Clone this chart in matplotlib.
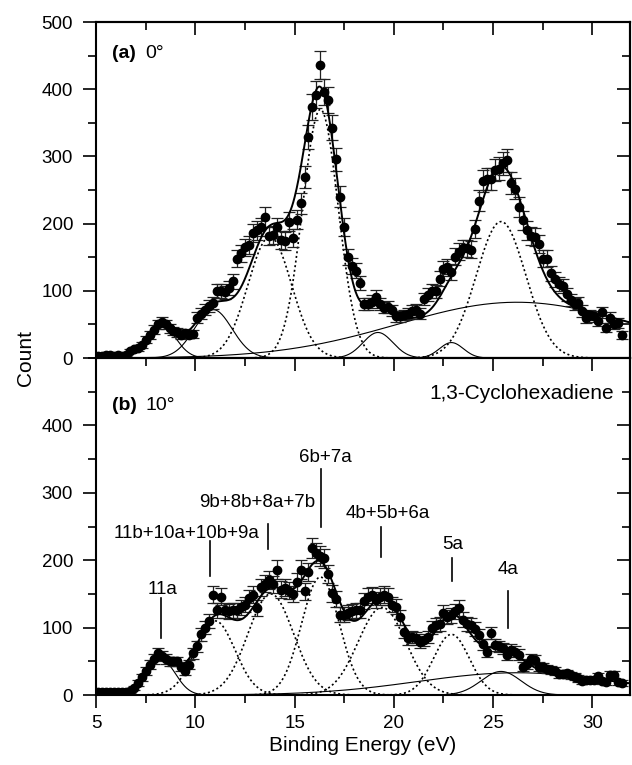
import matplotlib.pyplot as plt
import numpy as np
from matplotlib.ticker import MultipleLocator

plt.rcParams['font.family'] = ['Liberation Sans', 'DejaVu Sans']

# measurement grid (eV)
energy = np.round(np.arange(5.1, 31.6, 0.2), 1)

counts_0deg = [
    3, 3, 4, 4, 3,
    4, 3, 5, 10, 13,
    15, 19, 27, 34, 42,
    50, 54, 50, 44, 40,
    38, 34, 37, 35, 36,
    60, 66, 72, 78, 82,
    100, 100, 98, 104, 114,
    148, 156, 165, 168, 186,
    190, 195, 210, 182, 183,
    195, 176, 174, 203, 178,
    206, 230, 270, 329, 373,
    392, 436, 396, 384, 343,
    296, 240, 195, 150, 137,
    130, 112, 81, 81, 84,
    91, 81, 75, 76, 71,
    62, 62, 64, 66, 70,
    72, 66, 88, 94, 100,
    99, 118, 133, 136, 128,
    151, 158, 163, 163, 161,
    192, 234, 263, 267, 267,
    280, 282, 290, 294, 260,
    252, 225, 205, 190, 182,
    180, 170, 148, 148, 126,
    117, 110, 107, 95, 86,
    80, 82, 70, 60, 64,
    62, 55, 68, 45, 60,
    50, 52, 34,
]

counts_10deg = [
    4, 4, 4, 4, 4,
    4, 5, 5, 6, 10,
    18, 26, 36, 45, 54,
    62, 58, 54, 50, 50,
    50, 42, 35, 45, 62,
    72, 90, 100, 110, 149,
    126, 146, 126, 124, 126,
    126, 130, 134, 144, 149,
    129, 160, 165, 171, 164,
    186, 156, 159, 155, 150,
    168, 186, 154, 183, 218,
    211, 206, 203, 180, 151,
    142, 119, 119, 122, 124,
    126, 126, 140, 146, 148,
    141, 146, 149, 146, 134,
    131, 115, 94, 84, 86,
    84, 79, 82, 86, 100,
    104, 106, 122, 116, 118,
    124, 129, 112, 106, 104,
    98, 89, 75, 64, 92,
    74, 72, 69, 60, 67,
    64, 60, 42, 46, 53,
    52, 42, 41, 39, 37,
    35, 31, 31, 32, 29,
    27, 25, 21, 22, 23,
    22, 28, 21, 20, 30,
    30, 20, 18,
]

# fitted gaussian components
centers_0deg = [8.3, 10.9, 13.75, 16.3, 19.2, 22.9, 25.4]
heights_0deg = [48, 72, 180, 370, 38, 23, 203]
sigmas_0deg = [0.72, 0.95, 1.1, 0.9, 0.75, 0.6, 1.25]
dotted_0deg = [False, False, True, True, False, False, True]
background_0deg = (26.2, 83, 6.0)

centers_10deg = [8.3, 11.0, 13.8, 16.3, 19.4, 22.9, 25.4]
heights_10deg = [52, 110, 150, 175, 130, 90, 35]
sigmas_10deg = [0.7, 1.0, 1.15, 0.95, 1.2, 0.9, 1.0]
dotted_10deg = [False, True, True, True, True, True, False]
background_10deg = (26.2, 33, 5.0)

assignments = ['11a', '11b+10a+10b+9a', '9b+8b+8a+7b', '6b+7a', '4b+5b+6a', '5a', '4a']
label_x = [8.37, 9.55, 13.1, 16.54, 19.7, 22.98, 25.75]
label_y = [156, 240, 286, 352, 270, 223, 186]
line_x = [8.27, 10.72, 13.65, 16.33, 19.34, 22.94, 25.75]
line_top = [144, 228, 254, 335, 250, 203, 154]
line_bottom = [85, 176, 216, 250, 205, 169, 99]


def gauss(x, c, h, s):
    return h * np.exp(-(x - c) ** 2 / (2 * s ** 2))


def draw_panel(ax, counts, centers, heights, sigmas, dotted, background):
    counts = np.array(counts, dtype=float)
    xf = np.linspace(5, 32, 800)
    total = gauss(xf, *background)
    ax.plot(xf, gauss(xf, *background), color='black', lw=0.8, zorder=2)
    for c, h, s, d in zip(centers, heights, sigmas, dotted):
        g = gauss(xf, c, h, s)
        total = total + g
        if d:
            ax.plot(xf, g, color='black', lw=1.2, ls=(0, (1.2, 1.6)), zorder=2)
        else:
            ax.plot(xf, g, color='black', lw=0.8, zorder=2)
    ax.plot(xf, total, color='black', lw=1.4, zorder=4)
    ax.errorbar(energy, counts, yerr=np.sqrt(counts), fmt='o', color='black',
                ms=6, ecolor='#222222', elinewidth=0.9, capsize=4.5,
                capthick=0.9, zorder=3)

    ax.set_xlim(5, 31.9)
    ax.set_ylim(0, 500)
    ax.xaxis.set_major_locator(MultipleLocator(5))
    ax.xaxis.set_minor_locator(MultipleLocator(2.5))
    ax.yaxis.set_major_locator(MultipleLocator(100))
    ax.yaxis.set_minor_locator(MultipleLocator(50))
    for s in ax.spines.values():
        s.set_linewidth(1.5)
    ax.tick_params(which='both', direction='out', width=1.2, labelsize=13.5,
                   top=False, right=False)
    ax.tick_params(which='major', length=9.5, pad=7)
    ax.tick_params(which='minor', length=5.5)

    # inward ticks on the top and right edges
    top = ax.secondary_xaxis('top')
    top.xaxis.set_major_locator(MultipleLocator(5))
    top.xaxis.set_minor_locator(MultipleLocator(2.5))
    right = ax.secondary_yaxis('right')
    right.yaxis.set_major_locator(MultipleLocator(100))
    right.yaxis.set_minor_locator(MultipleLocator(50))
    for sec in (top, right):
        sec.tick_params(which='both', direction='in', width=1.2,
                        labeltop=False, labelright=False)
        sec.tick_params(which='major', length=9.5)
        sec.tick_params(which='minor', length=5.5)
        for s in sec.spines.values():
            s.set_linewidth(1.5)


fig = plt.figure(figsize=(6.32, 7.65), dpi=100)
ax1 = fig.add_axes([0.152, 0.532, 0.845, 0.4392])
ax2 = fig.add_axes([0.152, 0.0915, 0.845, 0.4405])

draw_panel(ax1, counts_0deg, centers_0deg, heights_0deg, sigmas_0deg,
           dotted_0deg, background_0deg)
draw_panel(ax2, counts_10deg, centers_10deg, heights_10deg, sigmas_10deg,
           dotted_10deg, background_10deg)

ax1.tick_params(axis='x', which='both', bottom=False, labelbottom=False)
ax2.set_yticks([0, 100, 200, 300, 400])
ax2.tick_params(axis='x', which='major', pad=5)

ax1.text(0.03, 0.905, '(a)', transform=ax1.transAxes, fontsize=14,
         fontweight='bold', va='center')
ax1.text(0.092, 0.905, '0°', transform=ax1.transAxes, fontsize=14, va='center')
ax2.text(0.03, 0.86, '(b)', transform=ax2.transAxes, fontsize=14,
         fontweight='bold', va='center')
ax2.text(0.092, 0.86, '10°', transform=ax2.transAxes, fontsize=14, va='center')
ax2.text(0.97, 0.896, '1,3-Cyclohexadiene', transform=ax2.transAxes,
         fontsize=15, ha='right', va='center')

for name, tx, ty, lx, lt, lb in zip(assignments, label_x, label_y, line_x,
                                    line_top, line_bottom):
    ax2.text(tx, ty, name, fontsize=13.5, ha='center', va='center')
    ax2.plot([lx, lx], [lb, lt], color='black', lw=1.2)

fig.text(0.04, 0.532, 'Count', rotation=90, fontsize=15, ha='center', va='center')
ax2.set_xlabel('Binding Energy (eV)', fontsize=15, labelpad=3)

fig.savefig('out.png', dpi=100)
